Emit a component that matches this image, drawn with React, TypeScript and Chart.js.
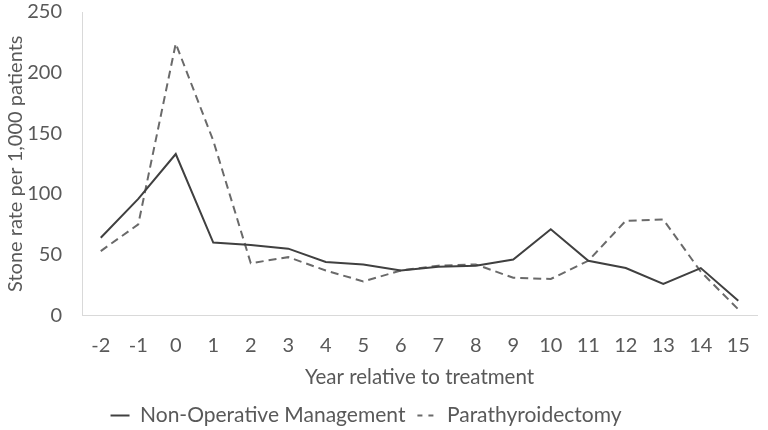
import React, { useEffect, useRef } from "react";
import { Chart, registerables } from "chart.js";

Chart.register(...registerables);

const years = ["-2", "-1", "0", "1", "2", "3", "4", "5", "6", "7", "8", "9", "10", "11", "12", "13", "14", "15"];
const nonOperative = [64, 96, 133, 60, 58, 55, 44, 42, 37, 40, 41, 46, 71, 45, 39, 26, 39, 12];
const parathyroidectomy = [53, 75, 224, 144, 43, 48, 37, 28, 37, 41, 42, 31, 30, 45, 78, 79, 36, 5];
const yTicks = [0, 50, 100, 150, 200, 250];

const FONT = "Lato, 'Open Sans', sans-serif";
const TEXT = "#595959";

const legendShift = {
  id: "legendShift",
  afterLayout(chart: any) {
    const lg = chart.legend;
    if (lg) {
      lg.left -= 16;
      lg.right -= 16;
    }
  },
};

export default function App() {
  const ref = useRef<HTMLCanvasElement | null>(null);
  useEffect(() => {
    if (!ref.current) return;
    const chart = new Chart(ref.current, {
      type: "line",
      data: {
        labels: years,
        datasets: [
          {
            label: "Non-Operative Management",
            data: nonOperative,
            borderColor: "#404040",
            backgroundColor: "#404040",
            borderWidth: 2,
            pointRadius: 0,
            tension: 0,
          },
          {
            label: "Parathyroidectomy",
            data: parathyroidectomy,
            borderColor: "#6a6a6a",
            backgroundColor: "#6a6a6a",
            borderWidth: 2,
            borderDash: [8, 5],
            pointRadius: 0,
            tension: 0,
          },
        ],
      },
      plugins: [legendShift],
      options: {
        responsive: false,
        animation: false,
        layout: { padding: { left: 0, right: 4, top: 0, bottom: -6 } },
        plugins: {
          tooltip: { enabled: false },
          legend: {
            position: "bottom",
            labels: {
              usePointStyle: true,
              pointStyle: "line",
              pointStyleWidth: 19,
              boxHeight: 8,
              padding: 12,
              color: TEXT,
              font: { family: FONT, size: 21 },
              generateLabels: (chart: any) => {
                const items = Chart.defaults.plugins.legend.labels.generateLabels(chart);
                items.forEach((it: any, i: number) => {
                  it.lineWidth = 2;
                  it.lineDash = i === 1 ? [5, 6] : [];
                });
                return items;
              },
            },
          },
        },
        scales: {
          x: {
            offset: true,
            afterFit: (scale: any) => {
              scale.height = scale.height - 16;
            },
            grid: { display: false, drawTicks: false },
            border: { display: true, color: "#d9d9d9", width: 1 },
            ticks: { color: TEXT, font: { family: FONT, size: 20 }, padding: 18, maxRotation: 0, autoSkip: false },
            title: { display: true, text: "Year relative to treatment", color: TEXT, font: { family: FONT, size: 20.5 }, padding: { top: 6, bottom: 3 } },
          },
          y: {
            min: 0,
            max: 250,
            afterBuildTicks: (scale: any) => {
              scale.ticks = yTicks.map((v) => ({ value: v }));
            },
            afterFit: (scale: any) => {
              scale.width = 82;
              scale.paddingTop = 12;
              scale.paddingBottom = 12;
            },
            grid: { display: false, drawTicks: false },
            border: { display: true, color: "#d9d9d9", width: 1 },
            ticks: { color: TEXT, font: { family: FONT, size: 20 }, padding: 20 },
            title: { display: true, text: "Stone rate per 1,000 patients", color: TEXT, font: { family: FONT, size: 20 }, padding: { top: 4, bottom: 0 } },
          },
        },
      },
    });
    return () => chart.destroy();
  }, []);
  return (
    <div style={{ position: "absolute", left: 0, top: 0, width: 768, height: 430, background: "#fff" }}>
      <canvas ref={ref} width={768} height={430} style={{ display: "block" }} />
    </div>
  );
}
